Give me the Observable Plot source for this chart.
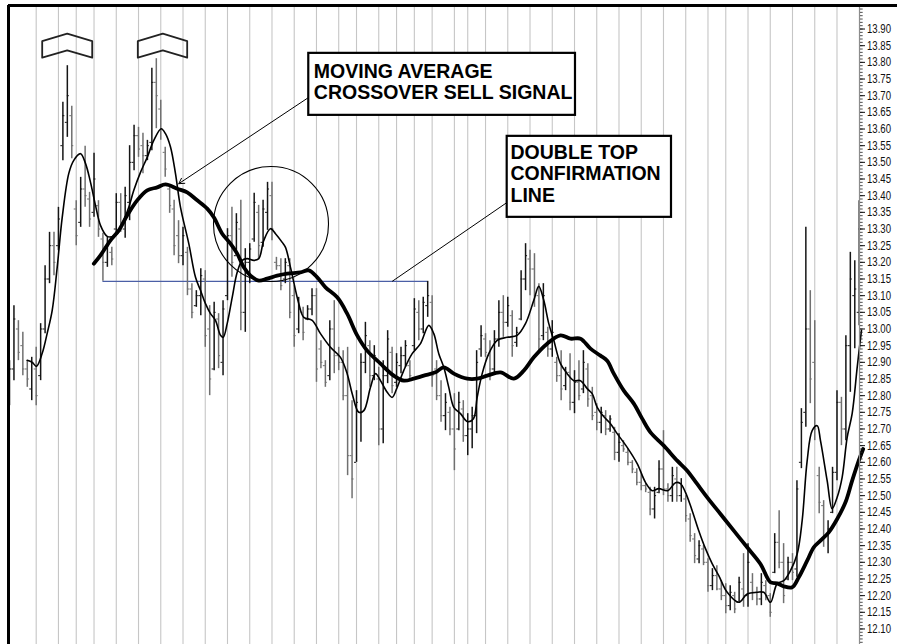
<!DOCTYPE html>
<html><head><meta charset="utf-8">
<script src="https://cdn.jsdelivr.net/npm/d3@7"></script>
<script src="https://cdn.jsdelivr.net/npm/@observablehq/plot@0.6"></script>
<style>
html,body{margin:0;padding:0;background:#fff;overflow:hidden;}
#chart svg{display:block;}
</style></head><body><div id="chart"></div>
<script>
const highs = [12.905,13.070,13.025,12.990,12.905,12.915,12.945,13.016,13.190,13.290,
13.290,13.365,13.680,13.790,13.668,13.385,13.455,13.548,13.410,13.527,
13.385,13.287,13.275,13.245,13.406,13.406,13.425,13.550,13.611,13.605,
13.587,13.566,13.782,13.811,13.686,13.545,13.431,13.386,13.325,13.305,
13.245,13.136,13.115,13.181,13.175,13.070,13.080,13.046,13.085,13.301,
13.365,13.346,13.386,13.241,13.256,13.407,13.371,13.386,13.440,13.440,
13.215,13.211,13.211,13.211,13.130,13.095,13.065,13.070,13.121,13.121,
12.965,12.905,13.025,13.085,12.945,12.935,12.945,12.785,12.815,12.926,
13.020,12.965,12.950,12.885,12.905,12.995,12.945,12.926,12.945,12.965,
12.905,13.091,13.085,13.095,13.143,13.100,12.905,12.845,12.806,12.765,
12.806,12.810,12.785,12.746,12.765,12.935,13.010,12.986,12.965,12.995,
13.085,13.100,13.095,13.055,13.005,13.175,13.256,13.236,13.226,13.136,
13.136,13.005,13.025,12.915,12.935,12.885,12.926,12.875,12.905,12.935,
12.896,12.825,12.776,12.765,12.755,12.740,12.705,12.686,12.665,12.641,
12.605,12.581,12.566,12.536,12.525,12.525,12.605,12.695,12.536,12.585,
12.585,12.551,12.500,12.446,12.386,12.365,12.350,12.311,12.281,12.290,
12.245,12.236,12.230,12.210,12.255,12.326,12.356,12.266,12.225,12.266,
12.245,12.206,12.386,12.455,12.356,12.315,12.326,12.545,12.761,13.305,
13.115,13.025,12.585,12.485,12.425,12.585,12.815,12.795,12.980,13.230,
13.205,13.385];
const lows = [12.770,12.845,12.905,12.860,12.825,12.785,12.770,12.845,12.986,13.136,
13.160,13.235,13.505,13.575,13.511,13.250,13.305,13.365,13.305,13.335,
13.275,13.143,13.185,13.190,13.287,13.290,13.272,13.325,13.475,13.515,
13.466,13.505,13.535,13.601,13.566,13.455,13.347,13.220,13.196,13.190,
13.100,13.031,13.065,13.040,12.945,12.800,12.875,12.881,12.860,13.085,
13.155,13.220,12.995,12.990,13.136,13.260,13.211,13.245,13.296,13.265,
13.176,13.115,13.136,13.031,12.945,12.986,12.965,13.025,13.040,12.840,
12.881,12.825,12.845,12.866,12.875,12.785,12.560,12.491,12.600,12.660,
12.866,12.825,12.845,12.650,12.656,12.836,12.806,12.825,12.866,12.885,
12.845,12.935,12.965,12.986,13.035,12.825,12.785,12.720,12.695,12.680,
12.575,12.695,12.660,12.620,12.641,12.686,12.915,12.915,12.845,12.866,
12.945,12.975,13.005,12.915,12.945,13.025,13.115,13.100,13.065,12.935,
12.965,12.915,12.915,12.840,12.785,12.815,12.755,12.746,12.785,12.806,
12.765,12.725,12.695,12.686,12.680,12.690,12.605,12.600,12.630,12.590,
12.566,12.530,12.515,12.509,12.440,12.430,12.506,12.500,12.480,12.480,
12.480,12.480,12.420,12.360,12.296,12.296,12.290,12.210,12.215,12.215,
12.185,12.146,12.155,12.146,12.180,12.165,12.165,12.185,12.170,12.170,
12.185,12.135,12.266,12.281,12.176,12.245,12.245,12.255,12.581,12.705,
12.776,12.665,12.446,12.345,12.326,12.446,12.545,12.650,12.665,12.810,
12.941,13.010];
const opens = [12.80,12.88,13.00,12.95,12.88,12.82,12.88,12.86,13.00,13.15,
13.25,13.25,13.55,13.62,13.64,13.36,13.32,13.42,13.39,13.35,
13.37,13.27,13.20,13.23,13.30,13.38,13.30,13.38,13.50,13.58,
13.55,13.52,13.56,13.74,13.66,13.53,13.42,13.36,13.28,13.22,
13.23,13.12,13.07,13.10,13.15,13.00,12.88,13.03,12.90,13.10,
13.28,13.22,13.30,13.05,13.20,13.27,13.35,13.26,13.35,13.40,
13.20,13.19,13.15,13.19,13.10,13.00,13.05,13.03,13.06,13.10,
12.94,12.89,12.86,13.00,12.92,12.90,12.80,12.62,12.60,12.75,
12.90,12.95,12.86,12.85,12.70,12.86,12.93,12.84,12.89,12.92,
12.89,12.95,13.05,13.00,13.07,13.08,12.88,12.80,12.74,12.75,
12.70,12.70,12.76,12.68,12.70,12.74,12.94,12.97,12.92,12.88,
12.97,13.05,13.02,13.04,12.96,13.03,13.15,13.21,13.18,13.10,
12.98,12.99,12.94,12.90,12.86,12.83,12.87,12.78,12.84,12.82,
12.88,12.80,12.75,12.72,12.74,12.70,12.69,12.63,12.65,12.63,
12.60,12.57,12.54,12.53,12.51,12.46,12.51,12.58,12.52,12.50,
12.55,12.50,12.49,12.43,12.37,12.31,12.34,12.30,12.23,12.26,
12.22,12.20,12.17,12.20,12.18,12.22,12.20,12.24,12.21,12.19,
12.23,12.20,12.27,12.36,12.30,12.25,12.30,12.28,12.60,12.75,
13.00,12.90,12.56,12.47,12.38,12.45,12.57,12.78,12.70,12.95,
13.10,13.05];
const closes = [12.88,13.03,12.93,12.88,12.85,12.90,12.80,13.00,13.15,13.25,
13.20,13.33,13.64,13.70,13.55,13.28,13.42,13.40,13.33,13.45,
13.30,13.20,13.25,13.21,13.38,13.32,13.40,13.50,13.58,13.54,
13.52,13.55,13.74,13.70,13.60,13.48,13.37,13.25,13.22,13.28,
13.12,13.05,13.10,13.16,12.98,12.85,13.05,12.92,13.06,13.28,
13.20,13.32,13.05,13.20,13.24,13.38,13.25,13.36,13.42,13.30,
13.19,13.13,13.20,13.05,12.98,13.06,12.99,13.06,13.10,12.88,
12.90,12.84,13.00,12.92,12.90,12.80,12.62,12.55,12.78,12.90,
12.98,12.86,12.92,12.70,12.86,12.97,12.83,12.90,12.92,12.95,
12.86,13.06,13.00,13.08,13.10,12.86,12.80,12.74,12.78,12.70,
12.64,12.78,12.68,12.70,12.74,12.90,12.98,12.93,12.88,12.97,
13.05,13.02,13.07,12.95,12.99,13.15,13.22,13.18,13.10,12.97,
13.10,12.94,12.99,12.86,12.82,12.87,12.78,12.84,12.80,12.90,
12.79,12.74,12.72,12.75,12.70,12.73,12.63,12.66,12.64,12.60,
12.58,12.54,12.53,12.52,12.46,12.50,12.58,12.52,12.50,12.56,
12.50,12.53,12.44,12.38,12.32,12.35,12.30,12.23,12.26,12.22,
12.20,12.17,12.21,12.16,12.24,12.20,12.30,12.21,12.19,12.24,
12.20,12.15,12.36,12.30,12.20,12.30,12.27,12.52,12.72,13.00,
12.85,12.70,12.48,12.38,12.40,12.57,12.78,12.70,12.95,13.15,
13.12,13.30];

const gridDays = [6,11,15,19,24,29,34,39,44,49,54,59,64,69,74,78,83,87,91,95,100,103,107,112,117,122,127,132,137,142,147,152,157,161,166,171,176,181,186];

const maFastDay = [3.98,5.10,6.07,7.35,8.47,9.60,10.72,11.85,13.33,14.45,15.96,17.08,18.21,19.33,20.45,21.96,23.38,24.50,25.69,26.81,27.94,29.44,30.95,32.43,34.10,35.06,36.19,37.31,38.44,40.30,41.81,42.93,44.05,45.18,46.30,47.43,48.03,48.93,50.06,51.18,52.30,53.43,54.91,56.04,57.16,58.66,59.79,61.30,62.04,63.16,65.03,66.15,68.04,69.90,72.15,74.40,75.90,77.03,78.51,79.64,81.14,82.27,83.39,84.90,86.02,87.14,88.63,90.51,92.38,94.25,95.37,96.49,97.62,98.74,99.87,101.37,102.94,104.29,105.12,106.25,107.73,109.62,111.87,114.12,115.98,117.85,118.97,120.09,121.22,122.34,123.85,125.35,126.84,128.34,129.85,130.97,132.10,133.51,135.09,136.59,138.84,141.09,142.95,144.46,145.94,147.97,149.70,150.82,151.94,153.45,154.93,156.44,157.94,159.43,161.32,163.92,165.81,168.06,169.54,171.05,172.55,174.04,175.54,177.05,178.17,179.30,180.42,181.55,182.29,183.79,184.91,186.04,187.16,188.29,189.41,190.54,191.50];
const maFastVal = [12.906,12.900,12.888,12.927,12.987,13.056,13.185,13.335,13.467,13.506,13.526,13.497,13.440,13.371,13.311,13.278,13.278,13.290,13.326,13.365,13.416,13.470,13.515,13.566,13.601,13.586,13.546,13.466,13.365,13.256,13.155,13.116,13.076,13.046,13.026,12.981,12.975,13.016,13.095,13.170,13.206,13.211,13.206,13.211,13.266,13.301,13.286,13.260,13.245,13.185,13.076,13.035,13.026,12.986,12.945,12.915,12.866,12.806,12.750,12.755,12.825,12.866,12.845,12.810,12.795,12.825,12.876,12.926,12.956,13.011,12.986,12.926,12.885,12.825,12.765,12.746,12.722,12.731,12.795,12.866,12.926,12.966,12.975,12.981,13.016,13.086,13.128,13.086,13.016,12.966,12.896,12.866,12.845,12.845,12.821,12.806,12.765,12.738,12.716,12.686,12.645,12.596,12.540,12.515,12.521,12.515,12.539,12.536,12.510,12.455,12.395,12.341,12.296,12.260,12.210,12.180,12.205,12.210,12.210,12.180,12.236,12.245,12.275,12.325,12.425,12.605,12.695,12.710,12.665,12.545,12.461,12.495,12.555,12.675,12.746,12.885,12.996];

const maSlowDay = [18.95,20.45,22.70,24.57,26.46,28.70,30.95,33.20,35.06,37.69,39.94,42.19,44.44,45.92,47.81,49.67,51.18,52.66,54.17,56.04,57.92,60.17,62.42,65.41,67.27,69.16,71.03,73.66,75.90,78.15,80.40,83.39,86.38,88.63,90.87,93.12,95.75,97.62,99.87,102.88,105.12,107.37,110.36,113.35,115.60,117.85,120.86,123.85,126.10,128.34,130.59,132.84,134.34,135.83,138.08,140.33,142.21,144.08,147.07,150.08,152.33,154.57,156.82,159.81,162.80,165.81,168.80,171.05,172.55,174.04,175.93,177.41,179.30,180.78,182.29,184.15,186.04,187.91,189.41,190.89,191.88];
const maSlowVal = [13.196,13.221,13.266,13.296,13.341,13.386,13.416,13.425,13.434,13.421,13.410,13.386,13.361,13.335,13.286,13.256,13.226,13.185,13.160,13.145,13.151,13.160,13.166,13.170,13.176,13.155,13.125,13.095,13.046,12.981,12.935,12.896,12.860,12.845,12.851,12.860,12.870,12.885,12.866,12.851,12.851,12.860,12.870,12.851,12.875,12.915,12.956,12.981,12.971,12.971,12.941,12.920,12.905,12.866,12.815,12.776,12.731,12.690,12.650,12.605,12.575,12.535,12.495,12.445,12.395,12.345,12.295,12.240,12.237,12.228,12.225,12.255,12.305,12.345,12.365,12.390,12.430,12.480,12.545,12.605,12.640];

const yTickLabels = [12.10,12.15,12.20,12.25,12.30,12.35,12.40,12.45,12.50,12.55,12.60,12.65,12.70,12.75,12.80,12.85,12.90,12.95,13.00,13.05,13.10,13.15,13.20,13.25,13.30,13.35,13.40,13.45,13.50,13.55,13.60,13.65,13.70,13.75,13.80,13.85,13.90];

const labelBoxes = [
  {x1: 67.27, x2: 127.22, y1: 13.827, y2: 13.641},
  {x1: 111.87, x2: 148.80, y1: 13.578, y2: 13.335}
];
const labelTexts = [
  {x: 68.40, y: 13.800, text: "MOVING AVERAGE\nCROSSOVER SELL SIGNAL"},
  {x: 112.61, y: 13.556, text: "DOUBLE TOP\nCONFIRMATION\nLINE"}
];
const pointerArrow = [{x1: 67.27, y1: 13.695, x2: 38.05, y2: 13.436}];
const pointerLine = [{x1: 111.87, y1: 13.380, x2: 86.02, y2: 13.143}];
const confirmLine = [{y: 13.143, x1: 21, x2: 94}];
const circleCenter = [{x: 58.78, y: 13.315}];
const chevrons = [
  {id: "a", pts: [[7.35,13.864],[12.97,13.886],[18.59,13.864],[18.59,13.814],[12.97,13.836],[7.35,13.814],[7.35,13.864]]},
  {id: "b", pts: [[28.84,13.864],[34.46,13.886],[39.94,13.864],[39.94,13.814],[34.46,13.836],[28.84,13.814],[28.84,13.864]]}
];

const xDomain = [-0.225, 191.06];
const yDomain = [12.0534, 13.9706];
const rightAxisLine = [{x: xDomain[1], y1: yDomain[0], y2: yDomain[1]}];
const topBorder = [{y: yDomain[1], x1: xDomain[0], x2: 199.8}];
const leftBorder = [{x: xDomain[0], y1: yDomain[0], y2: yDomain[1]}];

const bars = highs.map((h, i) => ({d: i, h, l: lows[i], o: opens[i], c: closes[i], up: closes[i] >= opens[i]}));
const fast = maFastDay.map((d, i) => ({d, v: maFastVal[i]}));
const slow = maSlowDay.map((d, i) => ({d, v: maSlowVal[i]}));
const chevPts = chevrons.flatMap(c => c.pts.map(([x, y]) => ({id: c.id, x, y})));
const minorTicks = d3.range(1206, 1397).map(v => v / 100);
const barColor = b => b.up ? "#151515" : "#707070";

const chart = Plot.plot({
  width: 897, height: 644,
  marginTop: 5, marginLeft: 8, marginRight: 38, marginBottom: 0,
  x: {type: "linear", domain: xDomain, axis: null},
  y: {type: "linear", domain: yDomain, axis: null},
  style: {fontFamily: "'Liberation Sans',Arial,Helvetica,sans-serif", fontSize: "12.5px", color: "#111", background: "#fff"},
  marks: [
    Plot.ruleX(gridDays, {x: d => d, y1: yDomain[0], y2: 13.965, stroke: "#c6c6c6", strokeWidth: 1.1}),
    Plot.ruleY(confirmLine, {y: "y", x1: "x1", x2: "x2", stroke: "#4b5fa6", strokeWidth: 1.2}),
    Plot.ruleX(bars, {x: "d", y1: "l", y2: "h", stroke: barColor, strokeWidth: 1.5}),
    Plot.ruleY(bars, {y: "o", x1: b => b.d - 0.45, x2: "d", stroke: barColor, strokeWidth: 1}),
    Plot.ruleY(bars, {y: "c", x1: "d", x2: b => b.d + 0.45, stroke: barColor, strokeWidth: 1}),
    Plot.line(fast, {x: "d", y: "v", stroke: "#000", strokeWidth: 1.6, curve: "catmull-rom"}),
    Plot.line(slow, {x: "d", y: "v", stroke: "#000", strokeWidth: 3.8, curve: "catmull-rom"}),
    Plot.dot(circleCenter, {x: "x", y: "y", r: 57.5, stroke: "#000", strokeWidth: 1.1, fill: "none"}),
    Plot.line(chevPts, {x: "x", y: "y", z: "id", stroke: "#222", strokeWidth: 1.8, curve: "linear"}),
    Plot.arrow(pointerArrow, {x1: "x1", y1: "y1", x2: "x2", y2: "y2", stroke: "#000", strokeWidth: 1, headLength: 9, bend: false}),
    Plot.link(pointerLine, {x1: "x1", y1: "y1", x2: "x2", y2: "y2", stroke: "#000", strokeWidth: 1}),
    Plot.rect(labelBoxes, {x1: "x1", x2: "x2", y1: "y1", y2: "y2", fill: "#fff", stroke: "#000", strokeWidth: 2.2}),
    Plot.text(labelTexts, {x: "x", y: "y", text: "text", textAnchor: "start", lineAnchor: "top", lineHeight: 1.1, fontSize: 19.5, fontWeight: "bold", fontFamily: "'Liberation Sans',Arial,Helvetica,sans-serif", fill: "#000"}),
    Plot.ruleX(rightAxisLine, {x: "x", y1: "y1", y2: "y2", stroke: "#8c8c8c", strokeWidth: 1.2}),
    Plot.axisY(minorTicks, {anchor: "right", tickSize: 2.7, tickFormat: () => "", stroke: "#222", strokeWidth: 0.8}),
    Plot.axisY(yTickLabels, {anchor: "right", tickSize: 5, tickPadding: 2.5, tickFormat: d => d.toFixed(2), stroke: "#111", fill: "#111"}),
    // outer frame (top and left edges)
    Plot.ruleY(topBorder, {y: "y", x1: "x1", x2: "x2", stroke: "#000", strokeWidth: 3}),
    Plot.ruleX(leftBorder, {x: "x", y1: "y1", y2: "y2", stroke: "#000", strokeWidth: 3})
  ]
});
document.getElementById("chart").appendChild(chart);
d3.select(chart).selectAll("text").filter(function () {
  return /^\d\d\.\d\d$/.test(this.textContent);
}).attr("textLength", 24).attr("lengthAdjust", "spacingAndGlyphs");
</script>
</body></html>
